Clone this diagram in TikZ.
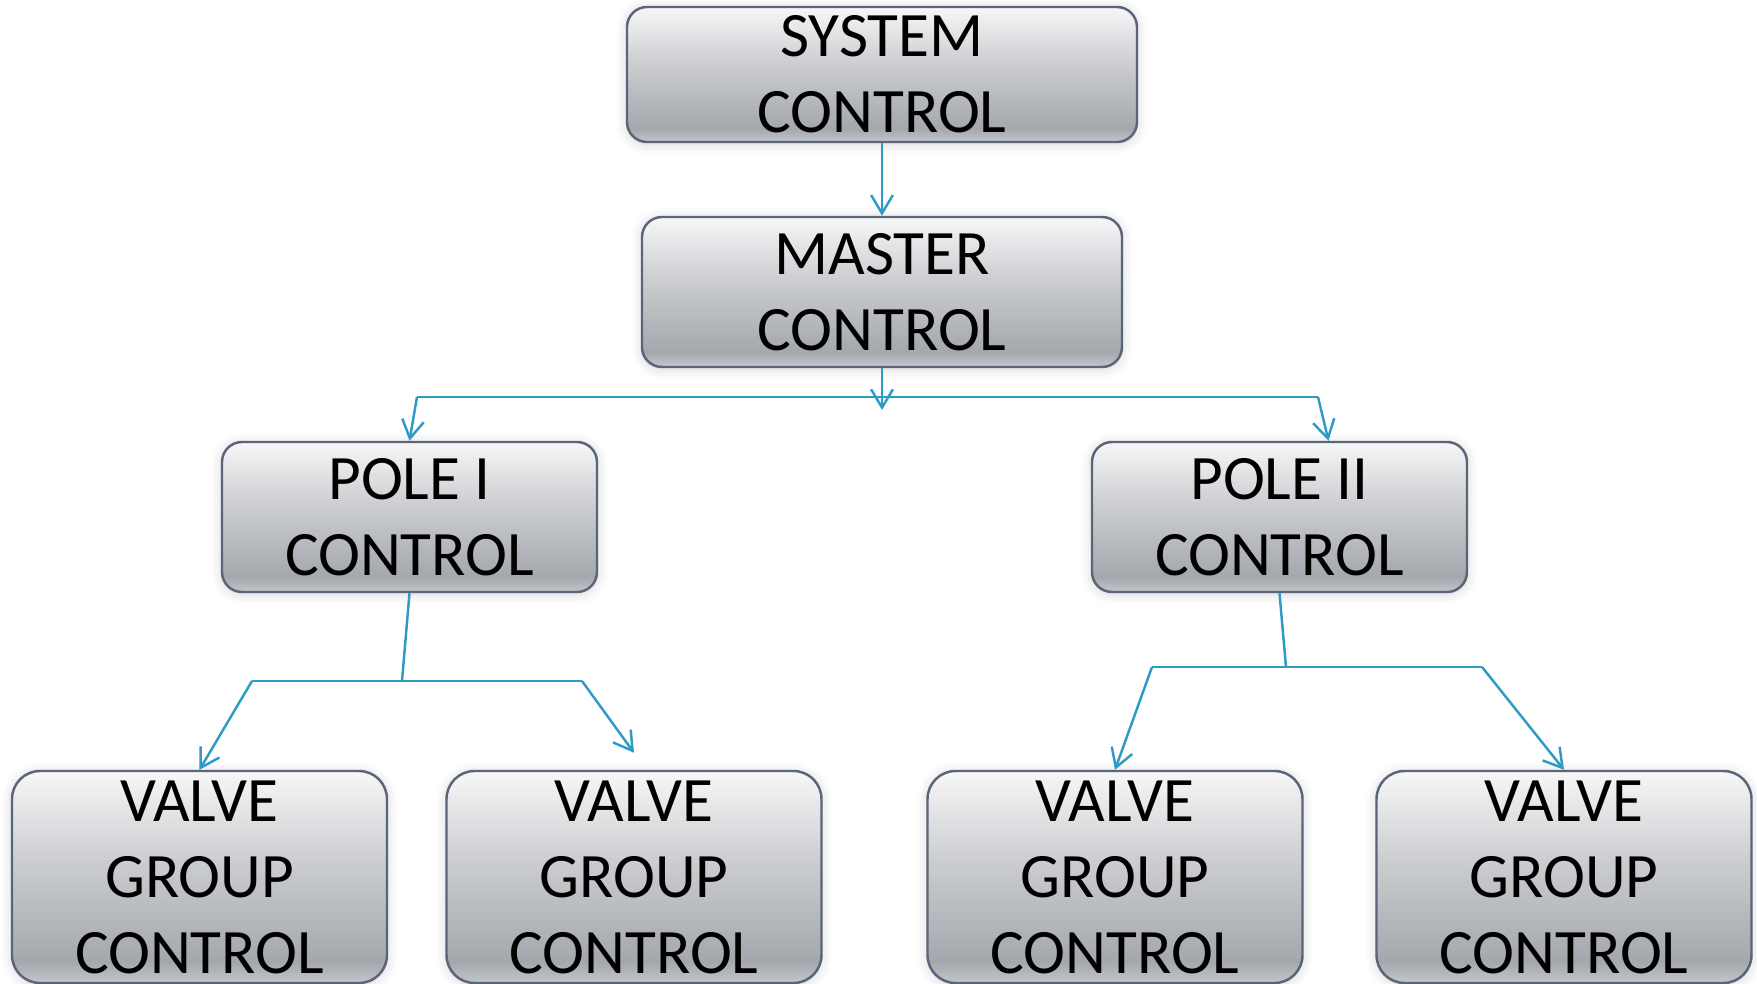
\documentclass[tikz,border=0pt]{standalone}
\usepackage{fontspec}
\setmainfont{Carlito}
\usepackage{tikz}
\usetikzlibrary{arrows.meta, shadows.blur}
\definecolor{boxedge}{HTML}{5B6579}
\definecolor{linkblue}{HTML}{2E9BC6}
\definecolor{shadetop}{HTML}{F7F7F8}
\definecolor{shademid}{HTML}{CDCFD2}
\definecolor{shadelow}{HTML}{A4A7AC}
\definecolor{shadebase}{HTML}{C4C6CA}
\pgfdeclareverticalshading{ctrlshade}{100bp}{color(0bp)=(shadebase); color(25bp)=(shadebase); color(30bp)=(shadelow); color(55bp)=(shademid); color(75bp)=(shadetop); color(100bp)=(shadetop)}

\begin{document}
\begin{tikzpicture}
  % Styles for the control hierarchy
  \tikzstyle{ctrl} = [draw=boxedge, line width=0.7pt, rounded corners=0.2cm, shade, shading=ctrlshade, align=center, inner sep=0pt, font=\fontsize{18}{21.6}\selectfont, blur shadow={shadow xshift=0pt, shadow yshift=-0.5pt, shadow blur radius=3pt, shadow opacity=18}]
  \tikzstyle{pole} = [ctrl, minimum width=3.75cm, minimum height=1.5cm]
  \tikzstyle{valve} = [ctrl, rounded corners=0.28cm, minimum width=3.75cm, minimum height=2.12cm]
  \tikzstyle{line} = [draw=linkblue, line width=0.7pt]
  \tikzstyle{link} = [line, -{Straight Barb[length=5.2pt, width=6.2pt]}]

  \useasboundingbox (0,0) rectangle (17.57,-9.84);

  % Top of the tree
  \node[ctrl, minimum width=5.1cm, minimum height=1.35cm] (sys) at (8.82,-0.745) {SYSTEM\\CONTROL};
  \node[ctrl, minimum width=4.8cm, minimum height=1.5cm] (mst) at (8.82,-2.92) {MASTER\\CONTROL};

  % Poles
  \node[pole] (pole1) at (4.095,-5.17) {POLE I\\CONTROL};
  \node[pole] (pole2) at (12.795,-5.17) {POLE II\\CONTROL};

  % Valve groups
  \node[valve] (vg1) at (1.995,-8.77) {VALVE\\GROUP\\CONTROL};
  \node[valve] (vg2) at (6.34,-8.77) {VALVE\\GROUP\\CONTROL};
  \node[valve] (vg3) at (11.15,-8.77) {VALVE\\GROUP\\CONTROL};
  \node[valve] (vg4) at (15.64,-8.77) {VALVE\\GROUP\\CONTROL};

  % Junction points
  \coordinate (mtip) at (8.82,-4.10);
  \coordinate (busL) at (4.17,-3.97);
  \coordinate (busR) at (13.18,-3.97);
  \coordinate (p1j) at (4.02,-6.81);
  \coordinate (p1L) at (2.52,-6.81);
  \coordinate (p1R) at (5.82,-6.81);
  \coordinate (p2j) at (12.86,-6.67);
  \coordinate (p2L) at (11.52,-6.67);
  \coordinate (p2R) at (14.82,-6.67);

  % Arrows
  \draw[link] (sys) -- (mst);
  \draw[link] (mst.south) -- (mtip);
  \draw[line] (busL) -- (busR);
  \draw[link] (busL) -- (pole1.north);
  \draw[link] (busR) -- ([xshift=4.9mm]pole2.north);

  \draw[line] (pole1.south) -- (p1j);
  \draw[line] (p1L) -- (p1R);
  \draw[link] (p1L) -- (vg1.north);
  \draw[link] (p1R) -- ([yshift=1.7mm]vg2.north);

  \draw[line] (pole2.south) -- (p2j);
  \draw[line] (p2L) -- (p2R);
  \draw[link] (p2L) -- (vg3.north);
  \draw[link] (p2R) -- (vg4.north);

\end{tikzpicture}
\end{document}
